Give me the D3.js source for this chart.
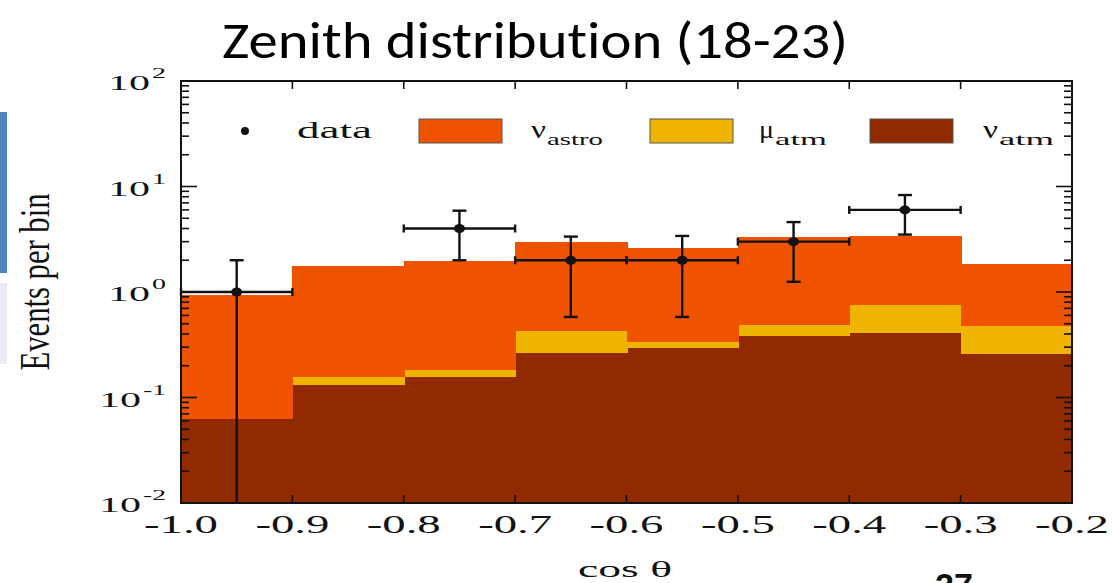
<!DOCTYPE html>
<html>
<head>
<meta charset="utf-8">
<script src="https://cdn.jsdelivr.net/npm/d3@7"></script>
<style>
  html, body { margin: 0; padding: 0; background: #fff; overflow: hidden; }
  svg { display: block; }
</style>
</head>
<body>
<svg id="chart" width="1112" height="583"></svg>
<script>
// Zenith distribution (18-23): histograma apilado en escala log + puntos de datos

// bordes de los bins en cos θ
const binEdges = [-1.0, -0.9, -0.8, -0.7, -0.6, -0.5, -0.4, -0.3, -0.2];
// componentes por bin (eventos)
const nuAtm   = [0.062, 0.131, 0.155, 0.266, 0.297, 0.383, 0.406, 0.257];
const muAtm   = [0.001, 0.024, 0.027, 0.161, 0.041, 0.100, 0.342, 0.216];
const nuAstro = [0.877, 1.605, 1.798, 2.573, 2.262, 2.817, 2.622, 1.367];

// datos observados
const dataX  = [-0.95, -0.75, -0.65, -0.55, -0.45, -0.35];
const dataY  = [1, 4, 2, 2, 3, 6];
const dataLo = [0, 2, 0.58, 0.58, 1.25, 3.5];
const dataHi = [2, 5.9, 3.35, 3.4, 4.6, 8.3];
const dataHalfW = 0.05;

const xTicks = [-1.0, -0.9, -0.8, -0.7, -0.6, -0.5, -0.4, -0.3, -0.2];
const xTickLabels = ['-1.0', '-0.9', '-0.8', '-0.7', '-0.6', '-0.5', '-0.4', '-0.3', '-0.2'];
const yDecades = [-2, -1, 0, 1, 2];

const COL_ASTRO = '#F05300';
const COL_MU = '#EFB400';
const COL_NU = '#922A00';
const SERIF = '"Liberation Serif", "DejaVu Serif", serif';

const M = { left: 181, right: 1072, top: 81, bottom: 503 };

const svg = d3.select('#chart');
const x = d3.scaleLinear().domain([-1.0, -0.2]).range([M.left, M.right]);
const y = d3.scaleLog().domain([0.01, 100]).range([M.bottom, M.top]);
const yc = v => y(Math.max(v, 0.01));

// tiras de la diapositiva a la izquierda
svg.append('rect').attr('x', 0).attr('y', 112).attr('width', 7).attr('height', 161).attr('fill', '#4F81BD');
svg.append('rect').attr('x', 0).attr('y', 283).attr('width', 7).attr('height', 81).attr('fill', '#E8EAF4');

// título
svg.append('text').text('Zenith distribution (18-23)')
  .attr('x', 222).attr('y', 58)
  .attr('font-family', 'Carlito, Lato, "Open Sans", sans-serif')
  .attr('font-size', 51).attr('fill', '#000')
  .style('font-variant-ligatures', 'none')
  .attr('textLength', 626).attr('lengthAdjust', 'spacingAndGlyphs');

// pila
const rows = binEdges.slice(0, -1).map((x0, i) => ({
  x0, x1: binEdges[i + 1], nu: nuAtm[i], mu: muAtm[i], astro: nuAstro[i]
}));
const stack = d3.stack().keys(['nu', 'mu', 'astro'])(rows);
const colors = { nu: COL_NU, mu: COL_MU, astro: COL_ASTRO };

const gBars = svg.append('g').attr('shape-rendering', 'crispEdges');
stack.forEach(layer => {
  gBars.append('g').selectAll('rect').data(layer).join('rect')
    .attr('x', d => x(d.data.x0))
    .attr('width', d => x(d.data.x1) - x(d.data.x0) + 1)
    .attr('y', d => yc(d[1]))
    .attr('height', d => Math.max(0, yc(d[0]) - yc(d[1])))
    .attr('fill', colors[layer.key]);
});

// ejes: ticks hacia dentro en los cuatro lados
const gAx = svg.append('g').attr('stroke', '#111').attr('stroke-width', 1.6);
yDecades.forEach(k => {
  const v = Math.pow(10, k);
  [M.left, M.right].forEach((px, side) => {
    const dir = side === 0 ? 1 : -1;
    gAx.append('line').attr('x1', px).attr('x2', px + dir * 16).attr('y1', y(v)).attr('y2', y(v));
    if (k < 2) {
      for (let m = 2; m <= 9; m++) {
        const yy = y(m * v);
        gAx.append('line').attr('x1', px).attr('x2', px + dir * 8).attr('y1', yy).attr('y2', yy);
      }
    }
  });
});
xTicks.forEach(t => {
  gAx.append('line').attr('x1', x(t)).attr('x2', x(t)).attr('y1', M.bottom).attr('y2', M.bottom - 8);
  gAx.append('line').attr('x1', x(t)).attr('x2', x(t)).attr('y1', M.top).attr('y2', M.top + 8);
});
svg.append('rect')
  .attr('x', M.left).attr('y', M.top)
  .attr('width', M.right - M.left).attr('height', M.bottom - M.top)
  .attr('fill', 'none').attr('stroke', '#111').attr('stroke-width', 2);

// etiquetas eje x
svg.append('g').selectAll('text').data(xTicks).join('text')
  .text((d, i) => xTickLabels[i])
  .attr('x', d => x(d)).attr('y', 533)
  .attr('text-anchor', 'middle')
  .attr('font-family', SERIF).attr('font-size', 25).attr('fill', '#111')
  .attr('textLength', 74).attr('lengthAdjust', 'spacingAndGlyphs');

// etiquetas eje y (10^k)
yDecades.forEach(k => {
  const yy = y(Math.pow(10, k));
  const sup = String(k);
  const supW = sup.length > 1 ? 23 : 14;
  svg.append('text').text(sup)
    .attr('x', 166).attr('y', yy - 3).attr('text-anchor', 'end')
    .attr('font-family', SERIF).attr('font-size', 15).attr('fill', '#111')
    .attr('textLength', supW).attr('lengthAdjust', 'spacingAndGlyphs');
  svg.append('text').text('10')
    .attr('x', 166 - supW - 2).attr('y', yy + 9).attr('text-anchor', 'end')
    .attr('font-family', SERIF).attr('font-size', 22).attr('fill', '#111')
    .attr('textLength', 42).attr('lengthAdjust', 'spacingAndGlyphs');
});

// títulos de ejes
svg.append('text').text('Events per bin')
  .attr('transform', 'translate(49,282) rotate(-90)')
  .attr('text-anchor', 'middle')
  .attr('font-family', SERIF).attr('font-size', 42).attr('fill', '#111')
  .attr('textLength', 177).attr('lengthAdjust', 'spacingAndGlyphs');
svg.append('text').text('cos θ')
  .attr('x', 625).attr('y', 577).attr('text-anchor', 'middle')
  .attr('font-family', SERIF).attr('font-size', 24).attr('fill', '#111')
  .attr('textLength', 94).attr('lengthAdjust', 'spacingAndGlyphs');

// número de diapositiva (cortado abajo, como en la diapositiva)
svg.append('text').text('27')
  .attr('x', 954).attr('y', 597).attr('text-anchor', 'middle')
  .attr('font-family', '"Liberation Sans", Arial, sans-serif').attr('font-weight', 700)
  .attr('font-size', 34).attr('fill', '#111');

// puntos de datos con barras de error
const pts = dataX.map((cx, i) => ({ cx, v: dataY[i], lo: dataLo[i], hi: dataHi[i] }));
const gD = svg.append('g').attr('stroke', '#111').attr('stroke-width', 2.4);
pts.forEach(p => {
  const px = x(p.cx), py = y(p.v);
  const xl = x(p.cx - dataHalfW), xr = x(p.cx + dataHalfW);
  gD.append('line').attr('x1', xl).attr('x2', xr).attr('y1', py).attr('y2', py);
  gD.append('line').attr('x1', xl).attr('x2', xl).attr('y1', py - 4).attr('y2', py + 4);
  gD.append('line').attr('x1', xr).attr('x2', xr).attr('y1', py - 4).attr('y2', py + 4);
  gD.append('line').attr('x1', px).attr('x2', px).attr('y1', yc(p.hi)).attr('y2', yc(p.lo));
  gD.append('line').attr('x1', px - 7).attr('x2', px + 7).attr('y1', yc(p.hi)).attr('y2', yc(p.hi));
  if (p.lo > 0.01) gD.append('line').attr('x1', px - 7).attr('x2', px + 7).attr('y1', yc(p.lo)).attr('y2', yc(p.lo));
  svg.append('ellipse').attr('cx', px).attr('cy', py).attr('rx', 5.5).attr('ry', 4.5).attr('fill', '#111');
});

// leyenda
const lg = svg.append('g');
lg.append('circle').attr('cx', 245).attr('cy', 131).attr('r', 4).attr('fill', '#111');
lg.append('text').text('data').attr('x', 297).attr('y', 138)
  .attr('font-family', SERIF).attr('font-size', 24).attr('fill', '#111')
  .attr('textLength', 75).attr('lengthAdjust', 'spacingAndGlyphs');
const legendItems = [
  { col: COL_ASTRO, sx: 419, tx: 531, sym: 'ν', sub: 'astro', subW: 56 },
  { col: COL_MU, sx: 650, tx: 759, sym: 'μ', sub: 'atm', subW: 52 },
  { col: COL_NU, sx: 870, tx: 983, sym: 'ν', sub: 'atm', subW: 55 }
];
legendItems.forEach(it => {
  lg.append('rect').attr('x', it.sx).attr('y', 119).attr('width', 83).attr('height', 24)
    .attr('fill', it.col).attr('stroke', '#555').attr('stroke-width', 1);
  lg.append('text').text(it.sym).attr('x', it.tx).attr('y', 138)
    .attr('font-family', SERIF).attr('font-size', 26).attr('fill', '#111')
    .attr('textLength', 15).attr('lengthAdjust', 'spacingAndGlyphs');
  lg.append('text').text(it.sub).attr('x', it.tx + 16).attr('y', 145)
    .attr('font-family', SERIF).attr('font-size', 16).attr('fill', '#111')
    .attr('textLength', it.subW).attr('lengthAdjust', 'spacingAndGlyphs');
});
</script>
</body>
</html>
